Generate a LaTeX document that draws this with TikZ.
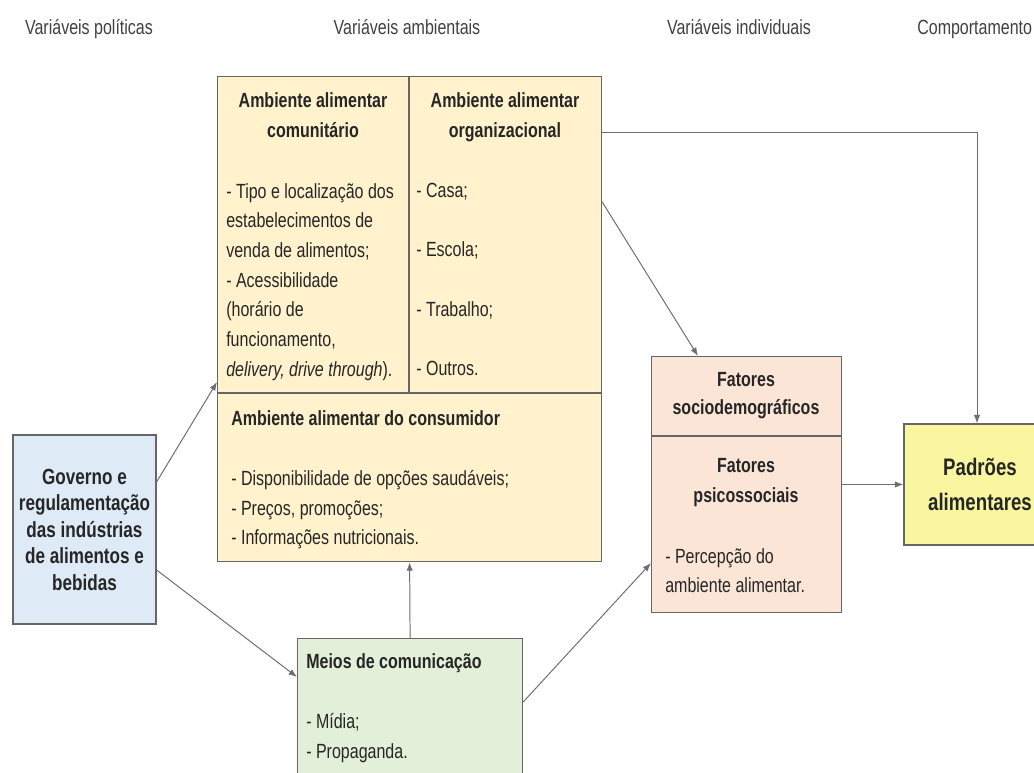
\documentclass[tikz,border=0pt]{standalone}
\usepackage{fontspec}
\setmainfont[FakeStretch=0.78]{Liberation Sans}
\usetikzlibrary{arrows.meta}
\definecolor{ambfill}{HTML}{FFF2CC}
\definecolor{govfill}{HTML}{DEEBF7}
\definecolor{meifill}{HTML}{E2F0D9}
\definecolor{fatfill}{HTML}{FBE5D6}
\definecolor{padfill}{HTML}{FAF6A0}
\definecolor{linecol}{HTML}{6E6E6E}
\definecolor{txtcol}{HTML}{262626}
\definecolor{hdrcol}{HTML}{404040}
\tikzset{
  box/.style={draw=black!60, line width=0.8pt, inner sep=0pt},
  arr/.style={draw=linecol, line width=0.7pt, -{Latex[length=6pt,width=4.5pt]}},
  txt/.style={inner sep=0pt, text=txtcol, align=left, font=\fontsize{14.6}{21.1}\selectfont},
  hdr/.style={inner sep=0pt, text=hdrcol, font=\fontsize{14.6}{21.1}\selectfont},
  ttl/.style={inner sep=0pt, text=txtcol, align=center, font=\bfseries\fontsize{14.6}{21.3}\selectfont},
}
\begin{document}
\begin{tikzpicture}[x=0.025cm,y=-0.025cm]
\useasboundingbox (0,0) rectangle (1034,772);
\clip (0,0) rectangle (1034,772);
% column headers
\node[hdr, anchor=base] (hpol) at (89,34) {Variáveis políticas};
\node[hdr, anchor=base] (hamb) at (407,34) {Variáveis ambientais};
\node[hdr, anchor=base] (hind) at (739,34) {Variáveis individuais};
\node[hdr, anchor=base west] (hcom) at (917,34) {Comportamento};
% boxes
\node[box, fill=ambfill, anchor=north west, minimum width=9.6cm, minimum height=12.125cm] (amb) at (217,76) {};
\draw[draw=black!60, line width=0.8pt] (amb.west |- 0,393) -- (amb.east |- 0,393);
\draw[draw=black!60, line width=0.8pt] (amb.north -| 409,0) -- (409,393);
\node[box, fill=govfill, minimum width=3.575cm, minimum height=4.725cm, align=center, text=txtcol,
  font=\bfseries\fontsize{15.6}{18.85}\selectfont] (gov) at (84.5,529.5)
  {Governo e\\regulamentação\\das indústrias\\de alimentos e\\bebidas};
\node[box, fill=meifill, anchor=north west, minimum width=5.625cm, minimum height=4cm] (mei) at (297,638) {};
\node[box, fill=fatfill, anchor=north west, minimum width=4.75cm, minimum height=6.4cm] (fat) at (651,356) {};
\draw[draw=black!60, line width=0.8pt] (fat.west |- 0,436) -- (fat.east |- 0,436);
\node[box, fill=padfill, minimum width=3.8cm, minimum height=3.025cm, align=center, text=txtcol,
  font=\bfseries\fontsize{17}{24.9}\selectfont] (pad) at (980,484.5) {Padrões\\alimentares};
% texts inside
\node[ttl, anchor=north] (comt) at (313,92) {Ambiente alimentar\\comunitário};
\node[txt, anchor=north west] (coml) at (226,183) {- Tipo e localização dos\\estabelecimentos de\\venda de alimentos;\\- Acessibilidade\\(horário de\\funcionamento,\\\textit{delivery, drive through}).};
\node[ttl, anchor=north] (orgt) at (505,92) {Ambiente alimentar\\organizacional};
\node[txt, anchor=north west] (orgl) at (416,183) {- Casa;\\[21.1pt]- Escola;\\[21.1pt]- Trabalho;\\[21.1pt]- Outros.};
\node[ttl, anchor=base west] (cont) at (231,425) {Ambiente alimentar do consumidor};
\node[txt, anchor=north west] (conl) at (231,470) {- Disponibilidade de opções saudáveis;\\- Preços, promoções;\\- Informações nutricionais.};
\node[ttl, anchor=base west] (meit) at (306,668) {Meios de comunicação};
\node[txt, anchor=north west] (meil) at (306,713) {- Mídia;\\- Propaganda.};
\node[ttl, anchor=north, font=\bfseries\fontsize{14.6}{19.9}\selectfont] (sdt) at (746,372) {Fatores\\sociodemográficos};
\node[ttl, anchor=north] (pst) at (746,458) {Fatores\\psicossociais};
\node[txt, anchor=north west] (psl) at (665,548) {- Percepção do\\ambiente alimentar.};
% connectors
\draw[arr] (gov.east |- 0,482) -- (amb.west |- 0,382);
\draw[arr] (gov.east |- 0,570) -- (mei.west |- 0,677);
\draw[arr] (mei.north) -- (amb.south);
\draw[arr] (mei.east |- 0,702) -- (fat.west |- 0,563);
\draw[arr] (amb.east |- 0,202) -- (fat.north -| 698,0);
\draw[arr] (amb.east |- 0,132) -| (pad.north -| 977,0);
\draw[arr] (fat.east |- pad.west) -- (pad.west);
\end{tikzpicture}
\end{document}
